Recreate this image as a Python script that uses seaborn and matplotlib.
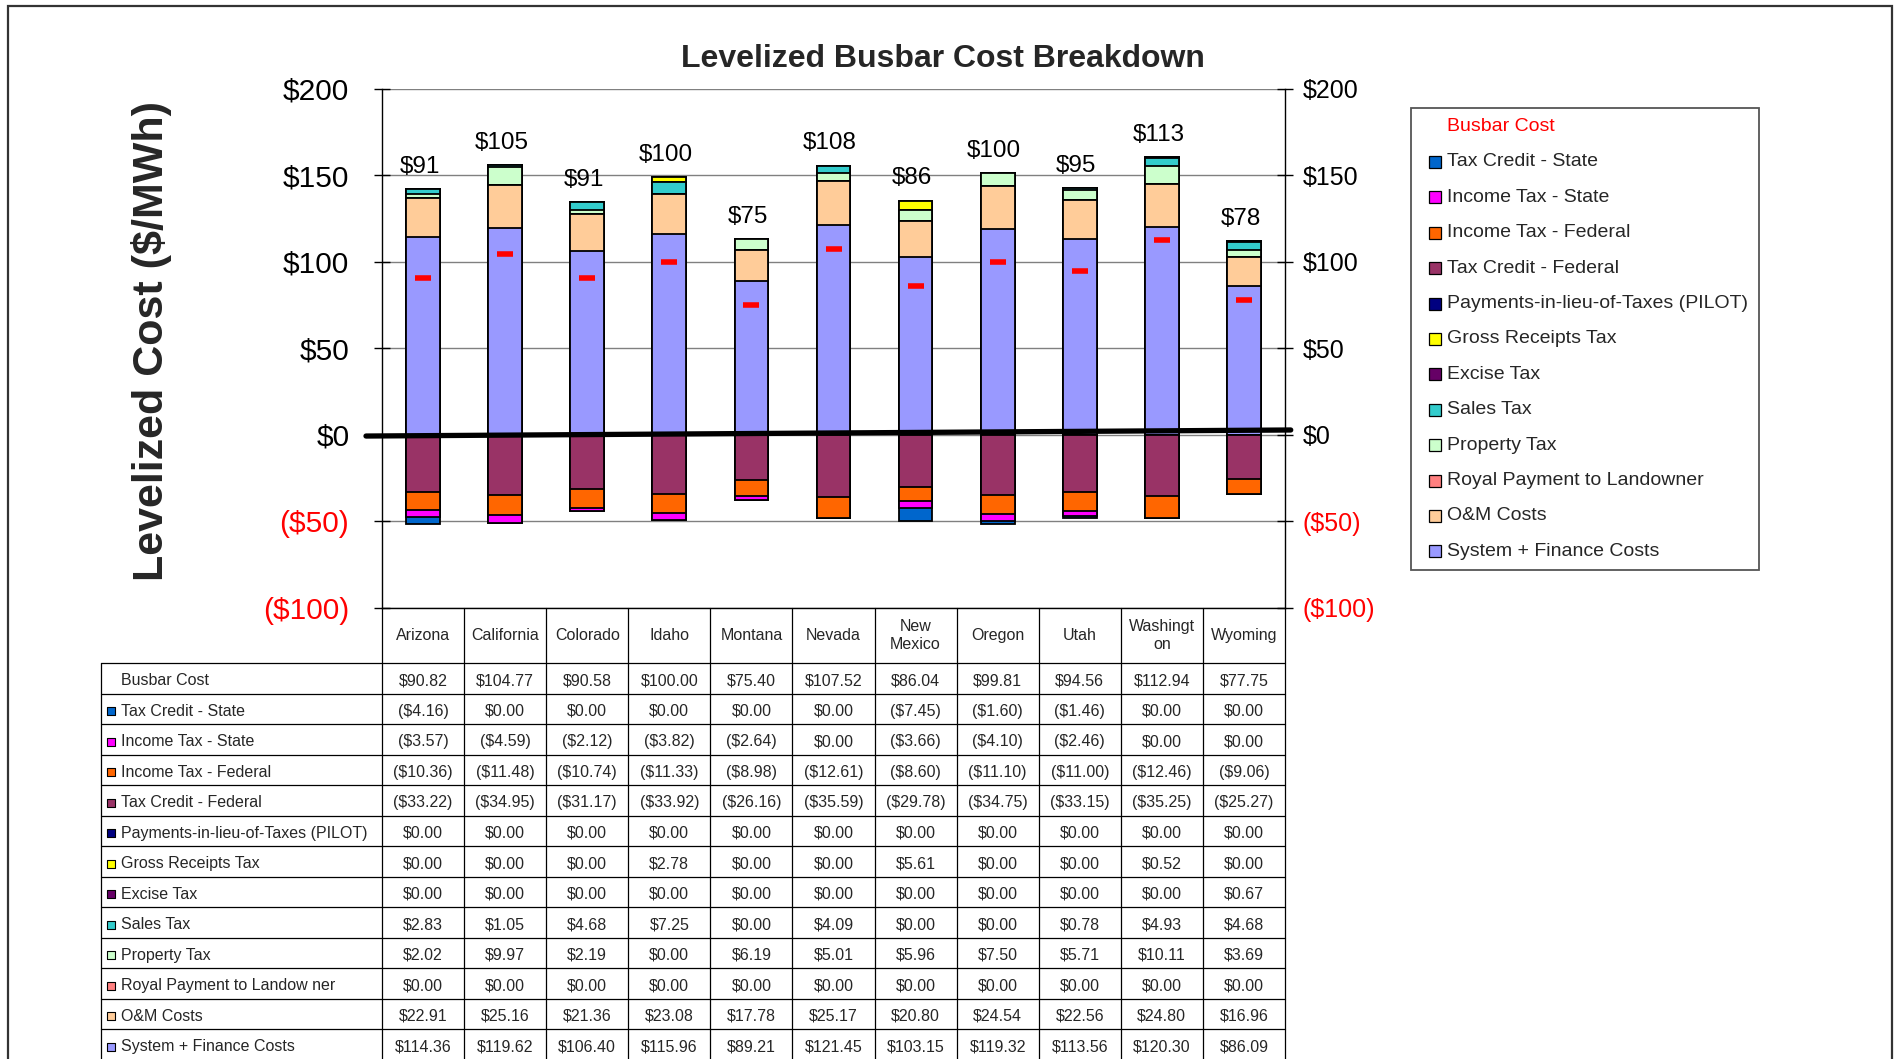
import numpy as np
import seaborn as sns
import matplotlib.pyplot as plt
from matplotlib.patches import Rectangle

states = ['Arizona', 'California', 'Colorado', 'Idaho', 'Montana', 'Nevada',
          'New Mexico', 'Oregon', 'Utah', 'Washington', 'Wyoming']
header_labels = ['Arizona', 'California', 'Colorado', 'Idaho', 'Montana', 'Nevada',
                 'New\nMexico', 'Oregon', 'Utah', 'Washingt\non', 'Wyoming']

busbar_cost = [90.82, 104.77, 90.58, 100.00, 75.40, 107.52, 86.04, 99.81, 94.56, 112.94, 77.75]
tax_credit_state = [-4.16, 0.00, 0.00, 0.00, 0.00, 0.00, -7.45, -1.60, -1.46, 0.00, 0.00]
income_tax_state = [-3.57, -4.59, -2.12, -3.82, -2.64, 0.00, -3.66, -4.10, -2.46, 0.00, 0.00]
income_tax_federal = [-10.36, -11.48, -10.74, -11.33, -8.98, -12.61, -8.60, -11.10, -11.00, -12.46, -9.06]
tax_credit_federal = [-33.22, -34.95, -31.17, -33.92, -26.16, -35.59, -29.78, -34.75, -33.15, -35.25, -25.27]
pilot = [0.00, 0.00, 0.00, 0.00, 0.00, 0.00, 0.00, 0.00, 0.00, 0.00, 0.00]
gross_receipts = [0.00, 0.00, 0.00, 2.78, 0.00, 0.00, 5.61, 0.00, 0.00, 0.52, 0.00]
excise_tax = [0.00, 0.00, 0.00, 0.00, 0.00, 0.00, 0.00, 0.00, 0.00, 0.00, 0.67]
sales_tax = [2.83, 1.05, 4.68, 7.25, 0.00, 4.09, 0.00, 0.00, 0.78, 4.93, 4.68]
property_tax = [2.02, 9.97, 2.19, 0.00, 6.19, 5.01, 5.96, 7.50, 5.71, 10.11, 3.69]
royal_payment = [0.00, 0.00, 0.00, 0.00, 0.00, 0.00, 0.00, 0.00, 0.00, 0.00, 0.00]
om_costs = [22.91, 25.16, 21.36, 23.08, 17.78, 25.17, 20.80, 24.54, 22.56, 24.80, 16.96]
system_finance = [114.36, 119.62, 106.40, 115.96, 89.21, 121.45, 103.15, 119.32, 113.56, 120.30, 86.09]

y_ticks = [-100, -50, 0, 50, 100, 150, 200]

# legend / table order (top to bottom)
series = [
    ('Tax Credit - State', tax_credit_state, '#0066CC'),
    ('Income Tax - State', income_tax_state, '#FF00FF'),
    ('Income Tax - Federal', income_tax_federal, '#FF6600'),
    ('Tax Credit - Federal', tax_credit_federal, '#993366'),
    ('Payments-in-lieu-of-Taxes (PILOT)', pilot, '#000080'),
    ('Gross Receipts Tax', gross_receipts, '#FFFF00'),
    ('Excise Tax', excise_tax, '#660066'),
    ('Sales Tax', sales_tax, '#33CCCC'),
    ('Property Tax', property_tax, '#CCFFCC'),
    ('Royal Payment to Landowner', royal_payment, '#FF8080'),
    ('O&M Costs', om_costs, '#FFCC99'),
    ('System + Finance Costs', system_finance, '#9999FF'),
]
table_names = [s[0] for s in series]
table_names[9] = 'Royal Payment to Landow ner'

sns.set_theme(style='white')
plt.rcParams['font.family'] = ['Liberation Sans', 'DejaVu Sans']

W, H = 1896, 1059


def fx(px):
    return px / W


def fy(py):
    return 1 - py / H


fig = plt.figure(figsize=(W / 100, H / 100), dpi=100)
fig.patch.set_facecolor('white')
# outer frame
fig.patches.append(Rectangle((fx(8), -0.05), fx(1892) - fx(8), fy(6) + 0.05,
                             transform=fig.transFigure, fill=False,
                             edgecolor='#333333', lw=1.6))

ax = fig.add_axes([fx(382), fy(608), fx(1285) - fx(382), fy(89) - fy(608)])

# positive stack: bottom -> top ; negative stack: zero -> down
pos = series[4:][::-1]
neg = series[:4][::-1]
pos_cum = np.cumsum([np.array(s[1]) for s in pos], axis=0)
neg_cum = np.cumsum([np.array(s[1]) for s in neg], axis=0)

for layers, cum in ((pos, pos_cum), (neg, neg_cum)):
    for k in range(len(layers) - 1, -1, -1):
        sns.barplot(x=states, y=cum[k], color=layers[k][2], width=0.41,
                    saturation=1, edgecolor='black', linewidth=1.3,
                    errorbar=None, ax=ax)

tops = pos_cum[-1]
for i, v in enumerate(busbar_cost):
    ax.annotate(f'${v:.0f}', (i, tops[i]), xytext=(-2.5, 8), textcoords='offset points',
                ha='center', va='bottom', fontsize=17.5, color='black')
ax.plot(range(len(states)), busbar_cost, linestyle='none', marker='_',
        markersize=11.5, mew=4, color='red', zorder=5)

ax.set_ylim(-100, 200)
ax.set_xlim(-0.5, 10.5)
ax.set_xlabel('')
ax.set_ylabel('')
ax.tick_params(axis='x', length=0, labelbottom=False)


def money(v):
    return f'(${abs(v):.0f})' if v < 0 else f'${v:.0f}'


ax.set_yticks(y_ticks)
ax.set_yticklabels([money(v) for v in y_ticks])
ax.yaxis.grid(True, color='#808080', lw=1)
ax.set_axisbelow(True)
ax.tick_params(axis='y', direction='inout', length=11, width=1, color='black',
               labelsize=21.5, pad=18, left=True)
for lab, v in zip(ax.get_yticklabels(), y_ticks):
    lab.set_color('red' if v < 0 else 'black')
for side in ('left', 'right', 'bottom'):
    ax.spines[side].set_visible(True)
    ax.spines[side].set_color('black')
    ax.spines[side].set_linewidth(1)
ax.spines['top'].set_visible(False)

ax2 = ax.twinx()
ax2.set_ylim(-100, 200)
ax2.set_yticks(y_ticks)
ax2.set_yticklabels([money(v) for v in y_ticks])
ax2.tick_params(axis='y', direction='inout', length=11, width=1, color='black',
                labelsize=18, pad=7, right=True)
for lab, v in zip(ax2.get_yticklabels(), y_ticks):
    lab.set_color('red' if v < 0 else 'black')
for sp in ax2.spines.values():
    sp.set_visible(False)
ax2.grid(False)

# thick zero line
ax.plot([-0.695, 10.57], [-0.6, 2.9], color='black', lw=3.8, clip_on=False, zorder=6)

fig.text(fx(943), fy(59), 'Levelized Busbar Cost Breakdown', ha='center', va='center',
         fontsize=23, fontweight='bold')
fig.text(fx(151), fy(341), 'Levelized Cost ($/MWh)', ha='center', va='center',
         rotation=90, fontsize=31, fontweight='bold')

# --- data table under the chart ---
col_w = (1285 - 382) / 11
lab_w = (382 - 101) / col_w
row_h = 30.5
head = 55 / row_h
nrows = (1059 - 608) / row_h
tax = fig.add_axes([fx(101), fy(1059), fx(1285) - fx(101), fy(608) - fy(1059)])
tax.set_xlim(-0.5 - lab_w, 10.5)
tax.set_ylim(nrows - head, -head)
tax.axis('off')
left = -0.5 - lab_w

for r in range(14):
    tax.plot([left, 10.5], [r, r], color='black', lw=0.9, clip_on=False)
for c in range(12):
    tax.plot([-0.5 + c, -0.5 + c], [-head, 14], color='black', lw=0.9, clip_on=False)
tax.plot([left, left], [0, 14], color='black', lw=0.9, clip_on=False)

tfs = 11.5
for i, name in enumerate(header_labels):
    tax.text(i, -head / 2, name, ha='center', va='center', fontsize=tfs,
             linespacing=1.25)

rows = [('Busbar Cost', busbar_cost, None)] + [(table_names[k], s[1], s[2])
                                               for k, s in enumerate(series)]


def cell(v):
    return f'(${abs(v):.2f})' if v < 0 else f'${v:.2f}'


nudge = 2.5 / row_h
for r, (name, vals, color) in enumerate(rows):
    yc = r + 0.5 + nudge
    tax.text(left + 20 / col_w, yc, name, ha='left', va='center', fontsize=tfs)
    if color is not None:
        tax.scatter([left + 9.5 / col_w], [yc], marker='s', s=40, color=color,
                    edgecolors='black', linewidths=0.8, clip_on=False, zorder=3)
    for i, v in enumerate(vals):
        tax.text(i, yc, cell(v), ha='center', va='center', fontsize=tfs)

# --- legend box ---
fig.patches.append(Rectangle((fx(1411), fy(570)), fx(1759) - fx(1411), fy(108) - fy(570),
                             transform=fig.transFigure, fill=False,
                             edgecolor='#555555', lw=1.3))
leg_rows = [('Busbar Cost', None)] + [(s[0], s[2]) for s in series]
for k, (name, color) in enumerate(leg_rows):
    yc = 126.5 + k * 35.4
    if color is None:
        fig.text(fx(1447), fy(yc), name, ha='left', va='center', fontsize=14, color='red')
    else:
        fig.patches.append(Rectangle((fx(1429), fy(yc + 6)), fx(12), 12 / H,
                                     transform=fig.transFigure, facecolor=color,
                                     edgecolor='black', lw=0.9))
        fig.text(fx(1447), fy(yc), name, ha='left', va='center', fontsize=14)

fig.savefig('out.png', dpi=100)
plt.close(fig)
